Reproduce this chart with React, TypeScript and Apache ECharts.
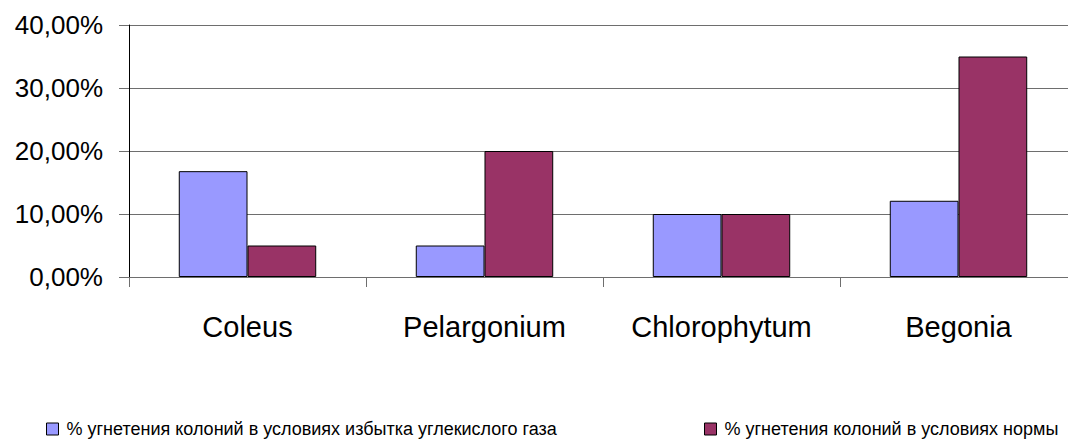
import React, { useEffect, useRef } from "react";
import * as echarts from "echarts";

const categories = ["Coleus", "Pelargonium", "Chlorophytum", "Begonia"];
const seriesCO2 = [0.168, 0.05, 0.1, 0.121];
const seriesNorm = [0.05, 0.2, 0.1, 0.35];
const seriesNames = [
  "% угнетения колоний в условиях избытка углекислого газа",
  "% угнетения колоний в условиях нормы",
];
const colors = ["#9999FF", "#993366"];

const FONT = "'Liberation Sans', Arial, sans-serif";

export default function App() {
  const ref = useRef<HTMLDivElement>(null);
  useEffect(() => {
    if (!ref.current) return;
    const chart = echarts.init(ref.current, null, { renderer: "svg" });
    const legendBase = {
      top: 420,
      icon: "rect",
      itemWidth: 12,
      itemHeight: 12,
      textStyle: { fontFamily: FONT, fontSize: 18, color: "#000", padding: [0, 0, 0, 3] },
      itemStyle: { borderColor: "#000", borderWidth: 1 },
      padding: 0,
    };
    chart.setOption({
      animation: false,
      backgroundColor: "#fff",
      grid: { left: 129, top: 25, right: 1, bottom: 164 },
      legend: [
        { ...legendBase, data: [seriesNames[0]], left: 46 },
        { ...legendBase, data: [seriesNames[1]], left: 704 },
      ],
      xAxis: {
        type: "category",
        data: categories,
        axisLine: { show: true, lineStyle: { color: "#6e6e6e", width: 1 } },
        axisTick: { show: true, length: 10, lineStyle: { color: "#6e6e6e" } },
        axisLabel: { fontFamily: FONT, fontSize: 29, color: "#000", margin: 35 },
      },
      yAxis: {
        type: "value",
        min: 0,
        max: 0.4,
        interval: 0.1,
        axisLine: { show: true, lineStyle: { color: "#000", width: 1 } },
        axisTick: { show: true, length: 10, lineStyle: { color: "#6e6e6e" } },
        splitLine: { show: true, lineStyle: { color: "#6e6e6e", width: 1 } },
        axisLabel: {
          fontFamily: FONT,
          fontSize: 26,
          color: "#000",
          margin: 26,
          formatter: (v: number) => (v * 100).toFixed(2).replace(".", ",") + "%",
        },
      },
      series: [
        {
          name: seriesNames[0],
          type: "bar",
          data: seriesCO2,
          barGap: "0%",
          barCategoryGap: "42%",
          itemStyle: { color: colors[0], borderColor: "#000", borderWidth: 1 },
        },
        {
          name: seriesNames[1],
          type: "bar",
          data: seriesNorm,
          barGap: "0%",
          barCategoryGap: "42%",
          itemStyle: { color: colors[1], borderColor: "#000", borderWidth: 1 },
        },
      ],
    });
    return () => chart.dispose();
  }, []);
  return (
    <div style={{ position: "absolute", left: 0, top: 0, width: 1068, height: 441, overflow: "hidden" }}>
      <div ref={ref} style={{ width: 1078, height: 441 }} />
    </div>
  );
}
